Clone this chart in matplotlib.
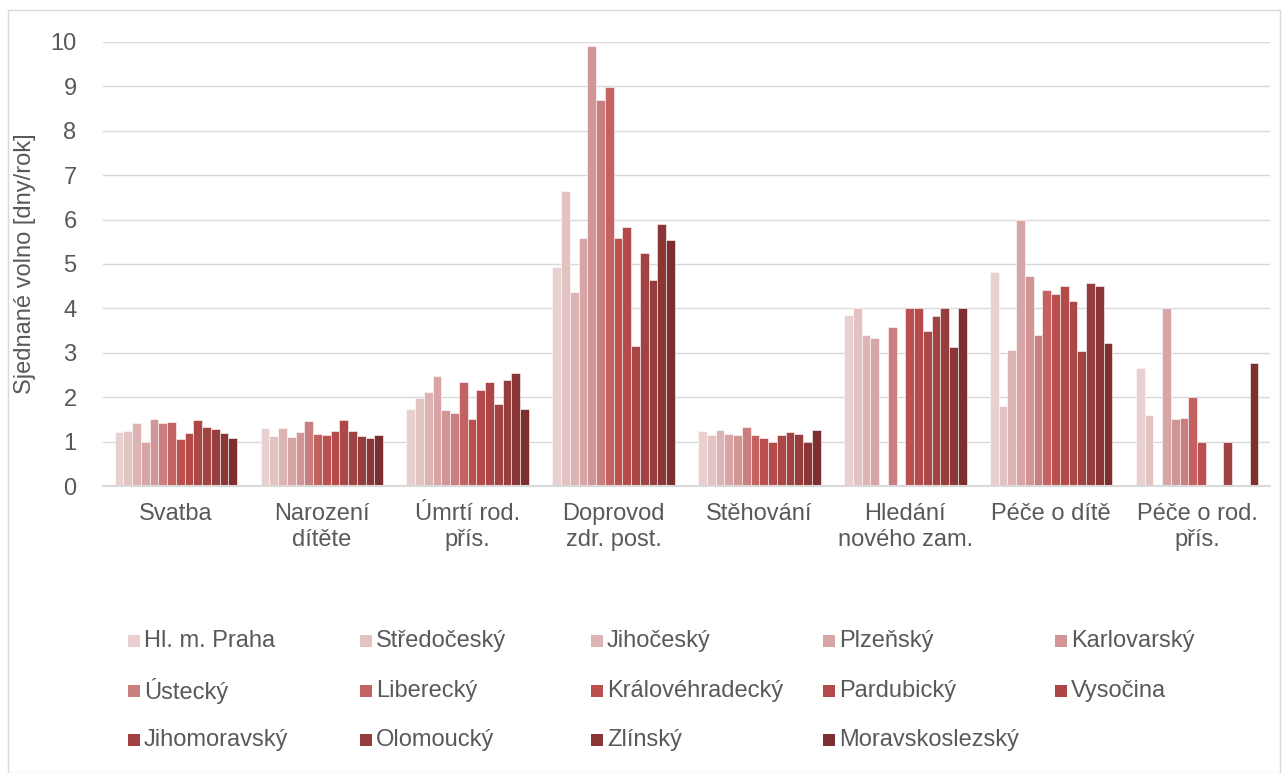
import numpy as np
import matplotlib
matplotlib.use("Agg")
import matplotlib.pyplot as plt
from matplotlib.patches import Rectangle

plt.rcParams['font.family'] = ['Liberation Sans', 'DejaVu Sans']

categories = ["Svatba", "Narození\ndítěte", "Úmrtí rod.\npřís.", "Doprovod\nzdr. post.",
              "Stěhování", "Hledání\nnového zam.", "Péče o dítě", "Péče o rod.\npřís."]

regions = ["Hl. m. Praha", "Středočeský", "Jihočeský", "Plzeňský", "Karlovarský",
           "Ústecký", "Liberecký", "Královéhradecký", "Pardubický", "Vysočina",
           "Jihomoravský", "Olomoucký", "Zlínský", "Moravskoslezský"]

nan = np.nan
# one list per category, one value per region (nan = no bar)
svatba = [1.22, 1.24, 1.42, 0.99, 1.50, 1.43, 1.45, 1.05, 1.19, 1.48, 1.32, 1.29, 1.20, 1.07]
narozeni = [1.30, 1.12, 1.31, 1.11, 1.21, 1.47, 1.18, 1.14, 1.23, 1.48, 1.23, 1.12, 1.09, 1.14]
umrti = [1.73, 1.98, 2.11, 2.47, 1.71, 1.65, 2.35, 1.50, 2.17, 2.34, 1.85, 2.38, 2.55, 1.73]
doprovod = [4.94, 6.65, 4.37, 5.59, 9.91, 8.70, 8.99, 5.59, 5.84, 3.15, 5.25, 4.64, 5.91, 5.54]
stehovani = [1.23, 1.14, 1.27, 1.17, 1.14, 1.32, 1.14, 1.07, 0.99, 1.14, 1.21, 1.17, 0.99, 1.27]
hledani = [3.86, 4.00, 3.40, 3.33, nan, 3.58, nan, 4.00, 4.00, 3.50, 3.82, 4.00, 3.14, 4.00]
pece_dite = [4.81, 1.80, 3.06, 6.00, 4.74, 3.39, 4.41, 4.33, 4.50, 4.17, 3.05, 4.57, 4.50, 3.22]
pece_rod = [2.65, 1.59, nan, 4.00, 1.50, 1.53, 2.00, 1.00, nan, nan, 1.00, nan, nan, 2.76]

colors = ["#E8CFD0", "#E3C2C2", "#DDB4B4", "#D7A5A5", "#D29595", "#C97F7F", "#C46262",
          "#BB504F", "#B44B4A", "#AB4746", "#A04342", "#963E3D", "#8B3636", "#7D2F2F"]

data = np.array([svatba, narozeni, umrti, doprovod, stehovani, hledani, pece_dite, pece_rod])

W, H = 1284, 773
fig = plt.figure(figsize=(W / 100, H / 100), dpi=100)
ax = fig.add_axes([103 / W, 1 - 486 / H, (1270 - 103) / W, (486 - 42) / H])

text_col = "#595959"
grid_col = "#D9D9D9"
fs = 17

x = np.arange(len(categories))
width = 0.06
n = len(regions)
for j, (name, col) in enumerate(zip(regions, colors)):
    ax.bar(x + (j - (n - 1) / 2) * width, data[:, j], width, color=col,
           edgecolor="white", linewidth=0.4, label=name, zorder=3)

ax.set_xlim(-0.5, len(categories) - 0.5)
ax.set_ylim(0, 10)
ax.set_yticks(range(0, 11))
ax.yaxis.grid(True, color=grid_col, linewidth=1, zorder=0)
ax.set_xticks(x)
ax.set_xticklabels(categories, linespacing=1.25)
ax.tick_params(axis='x', length=0, pad=12, colors=text_col, labelsize=fs)
ax.tick_params(axis='y', length=0, pad=19, colors=text_col, labelsize=fs)
for s in ["top", "right", "left"]:
    ax.spines[s].set_visible(False)
ax.spines["bottom"].set_color(grid_col)
ax.spines["bottom"].set_linewidth(1.5)
ax.spines["bottom"].set_zorder(4)

ax.set_ylabel("Sjednané volno [dny/rok]", color=text_col, fontsize=fs)
ax.yaxis.set_label_coords((36 - 103) / (1270 - 103), 0.5)

# legend drawn by hand, row-major like excel
col_x = [128, 360, 591, 823, 1055]
row_y = [641, 691, 740]
for k, (name, col) in enumerate(zip(regions, colors)):
    r, c = divmod(k, 5)
    px, py = col_x[c], row_y[r]
    fig.add_artist(Rectangle((px / W, 1 - (py + 6) / H), 12 / W, 12 / H,
                             transform=fig.transFigure, facecolor=col, edgecolor="none"))
    fig.text((px + 16) / W, 1 - py / H, name, color=text_col, fontsize=fs, va="center", ha="left")

# chart border
fig.add_artist(Rectangle((8 / W, 0), (1280 - 8) / W, 1 - 10 / H, transform=fig.transFigure,
                         facecolor="none", edgecolor=grid_col, linewidth=1))

fig.savefig("out.png", dpi=100)
